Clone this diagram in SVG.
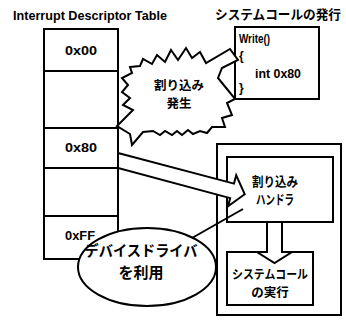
<svg xmlns="http://www.w3.org/2000/svg" width="346" height="326" viewBox="0 0 346 326">
<style>
.ln{fill:none;stroke:#000;stroke-width:2;stroke-linejoin:miter}
.sh{fill:#fff;stroke:#000;stroke-width:2;stroke-linejoin:miter}
.en{font-family:"Liberation Sans",Arial,sans-serif;font-weight:bold;fill:#000}
.jp{font-family:"Noto Sans CJK JP","Noto Sans",sans-serif;font-weight:bold;fill:#000}
.c{text-anchor:middle}
</style>
<rect width="346" height="326" fill="#fff"/>
<text class="en" x="13" y="20" font-size="13" textLength="154" lengthAdjust="spacingAndGlyphs">Interrupt Descriptor Table</text>
<text class="jp" x="215" y="19" font-size="13" textLength="126" lengthAdjust="spacingAndGlyphs">システムコールの発行</text>

<g id="idt">
<rect class="sh" x="44" y="29" width="74" height="230"/>
<path class="ln" d="M44 71H118M44 128H118M44 168H118M44 216H118"/>
<text class="en" x="65" y="55" font-size="13" textLength="32" lengthAdjust="spacingAndGlyphs">0x00</text>
<text class="en" x="65" y="152" font-size="13" textLength="32" lengthAdjust="spacingAndGlyphs">0x80</text>
<text class="en" x="65" y="240" font-size="13" textLength="30" lengthAdjust="spacingAndGlyphs">0xFF</text>
</g>

<g id="write">
<rect class="sh" x="235" y="27" width="84" height="72"/>
<text class="en" x="239" y="43" font-size="12" textLength="31" lengthAdjust="spacingAndGlyphs">Write()</text>
<text class="en" x="239" y="60" font-size="12">{</text>
<text class="en" x="255" y="78" font-size="12" textLength="46" lengthAdjust="spacingAndGlyphs">int 0x80</text>
<text class="en" x="239" y="92" font-size="12">}</text>
</g>

<g id="burst">
<polygon class="sh" points="130,67 140,66 143,59 152,64 157,55 165,62 171,50 178,60 186,48 192,58 200,52 206,63 230,49 238,60 222,68 218,78 227,89 235,99 227,103 232,115 222,118 225,127 212,127 207,133 200,131 193,134 188,130 182,135 177,131 172,135 165,131 160,135 153,131 143,132 132,145 130,134 117,126 133,110 123,105 130,98 122,92 128,85 122,78 132,73"/>
<text class="jp c" x="179" y="90" font-size="12.5">割り込み</text>
<text class="jp c" x="179" y="108" font-size="12.5">発生</text>
</g>

<g id="kernel">
<rect class="sh" x="217" y="144" width="124" height="171"/>
</g>
<g id="handler">
<rect class="sh" x="227" y="157" width="106" height="65"/>
<text class="jp c" x="275" y="186" font-size="13" textLength="46" lengthAdjust="spacingAndGlyphs">割り込み</text>
<text class="jp c" x="275" y="204" font-size="13" textLength="38" lengthAdjust="spacingAndGlyphs">ハンドラ</text>
</g>
<g id="exec">
<rect class="sh" x="227" y="252" width="86" height="53"/>
<text class="jp c" x="270" y="279" font-size="12.5" textLength="76" lengthAdjust="spacingAndGlyphs">システムコール</text>
<text class="jp c" x="270" y="297" font-size="12.5">の実行</text>
</g>

<g id="driver">
<ellipse class="sh" cx="147" cy="267" rx="69" ry="39"/>
<text class="jp c" x="141" y="256" font-size="15" textLength="113" lengthAdjust="spacingAndGlyphs">デバイスドライバ</text>
<text class="jp c" x="141" y="278" font-size="15">を利用</text>
</g>

<g id="connectors">
<polygon class="sh" points="118,153 234,183.6 236.2,175.3 244.7,194.2 228,206.3 230.2,198.1 118,168"/>
<polygon class="sh" points="267,222 282,222 282,252 292,252 274.5,263 257,252 267,252"/>
<line class="ln" x1="192" y1="238" x2="243" y2="209"/>
</g>
</svg>
